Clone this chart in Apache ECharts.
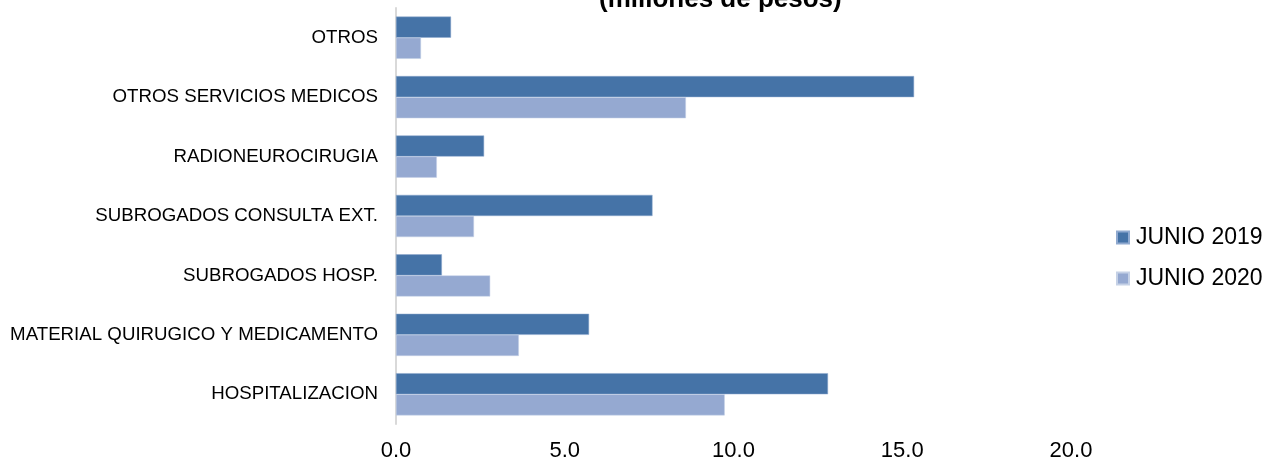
<!DOCTYPE html>
<html>
<head>
<meta charset="utf-8">
<style>
	html, body { margin: 0; padding: 0; background: #fff; }
	#chart { width: 1268px; height: 462px; }
</style>
<script src="https://cdn.jsdelivr.net/npm/echarts@6/dist/echarts.min.js"></script>
</head>
<body>
<div id="chart"></div>
<script>
// categories, top to bottom
var categories = ['OTROS', 'OTROS SERVICIOS MEDICOS', 'RADIONEUROCIRUGIA',
		'SUBROGADOS CONSULTA EXT.', 'SUBROGADOS HOSP.',
		'MATERIAL QUIRUGICO Y MEDICAMENTO', 'HOSPITALIZACION'];
var junio2019 = [1.63, 15.35, 2.61, 7.6, 1.36, 5.72, 12.8];
var junio2020 = [0.74, 8.59, 1.21, 2.31, 2.79, 3.64, 9.74];
var xTicks = [0, 5, 10, 15, 20];

var chart = echarts.init(document.getElementById('chart'));

var option = {
	animation : false,
	textStyle : {
		fontFamily : 'Liberation Sans, Arial, sans-serif'
	},
	title : {
		text : '(millones de pesos)',
		left : 594,
		top : -18,
		textStyle : {
			fontSize : 26,
			fontWeight : 'bold',
			color : '#000'
		}
	},
	legend : {
		orient : 'vertical',
		left : 1116,
		top : 226,
		padding : 0,
		itemGap : 18,
		itemWidth : 12,
		itemHeight : 12,
		icon : 'rect',
		data : ['JUNIO 2019', 'JUNIO 2020'],
		textStyle : {
			fontSize : 23,
			color : '#000',
			padding : [0, 0, 0, 2]
		}
	},
	grid : {
		left : 396,
		right : 197,
		top : 8,
		bottom : 37
	},
	xAxis : {
		type : 'value',
		min : xTicks[0],
		max : xTicks[xTicks.length - 1],
		interval : 5,
		axisLine : { show : false },
		axisTick : { show : false },
		splitLine : { show : false },
		axisLabel : {
			fontSize : 22,
			color : '#000',
			margin : 16,
			formatter : function(v) {
				return v.toFixed(1);
			}
		}
	},
	yAxis : {
		type : 'category',
		inverse : true,
		data : categories,
		axisLine : {
			show : true,
			lineStyle : { color : '#d9d9d9', width : 2 }
		},
		axisTick : { show : false },
		axisLabel : {
			fontSize : 18.7,
			color : '#000',
			margin : 18
		}
	},
	series : [{
				name : 'JUNIO 2019',
				type : 'bar',
				data : junio2019,
				barGap : '0%',
				barCategoryGap : '29%',
				itemStyle : {
					color : '#4573A7',
					borderColor : '#8fa9cf',
					borderWidth : 0.5
				}
			}, {
				name : 'JUNIO 2020',
				type : 'bar',
				data : junio2020,
				barGap : '0%',
				barCategoryGap : '29%',
				itemStyle : {
					color : '#95A9D1',
					borderColor : '#c5d1e6',
					borderWidth : 0.5
				}
			}]
};

chart.setOption(option);
</script>
</body>
</html>
